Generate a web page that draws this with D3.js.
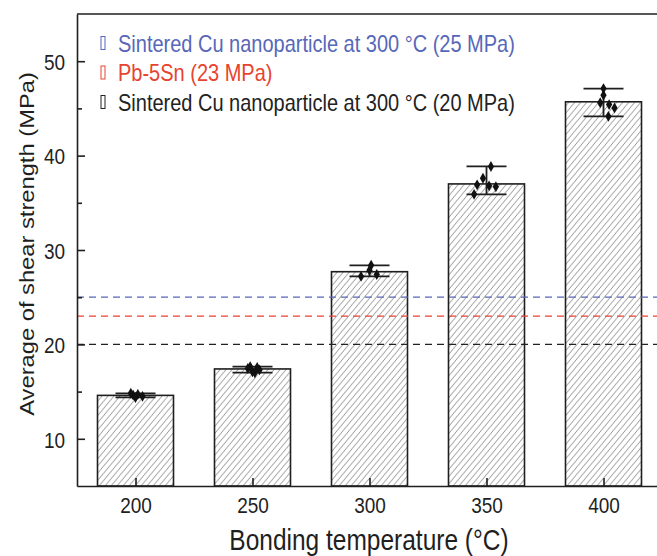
<!DOCTYPE html>
<html>
<head>
<meta charset="utf-8">
<script src="https://cdn.jsdelivr.net/npm/d3@7"></script>
<style>
  body { margin: 0; background: #fff; }
  svg { display: block; font-family: "Liberation Sans", Arial, sans-serif; }
</style>
</head>
<body>
<svg id="chart" width="657" height="556"></svg>
<script>
// ---- data ----
const temperatures = [200, 250, 300, 350, 400];           // bonding temperature, °C
const meanShear = [14.6, 17.4, 27.7, 37.0, 45.7];          // average shear strength, MPa
const sampleShear = [                                       // individual joints, MPa
  [14.82, 14.7, 14.62, 14.5, 14.38],
  [17.65, 17.55, 17.45, 17.3, 17.1, 17.0],
  [28.38, 27.85, 27.4, 27.2],
  [38.85, 37.6, 36.9, 36.8, 36.7, 35.9],
  [47.1, 46.4, 45.6, 45.4, 45.05, 44.15]
];
const sampleJitter = [                                      // horizontal spread of samples, °C
  [-2, 1, -1, 3, 0],
  [-1, 2, -2, 3, 0, 1],
  [0.7, 0, 3.1, -3.6],
  [1.9, -1.5, -4.0, 1.1, 4.0, -5.3],
  [0, 0, -1.4, 2.4, 4.7, 2.1]
];
const refNames = [
  "Sintered Cu nanoparticle at 300 \u00B0C (25 MPa)",
  "Pb-5Sn (23 MPa)",
  "Sintered Cu nanoparticle at 300 \u00B0C (20 MPa)"
];
const refStrength = [25, 23, 20];
const yTicks = [10, 20, 30, 40, 50];
const yMinorTicks = [15, 25, 35, 45];
const xTitle = "Bonding temperature (\u00B0C)";
const yTitle = "Average of shear strength (MPa)";

// ---- layout & style ----
const SY = 1.2;                      // vertical stretch applied to lettering
const ink = "#1f1f1f";
const refColors = ["#5767b9", "#e8432e", "#222222"];
const barW = 76, capHalf = 20;

const svg = d3.select("#chart");
const x = d3.scaleLinear().domain([175, 425]).range([77, 662]);
const y = d3.scaleLinear().domain([5, 55]).range([486, 14]);

// diagonal hatch fill
const pw = 6, ph = 7.2;
const pat = svg.append("defs").append("pattern")
  .attr("id", "hatch").attr("patternUnits", "userSpaceOnUse")
  .attr("width", pw).attr("height", ph);
pat.append("rect").attr("width", pw).attr("height", ph).attr("fill", "#fff");
pat.append("path")
  .attr("d", `M0,${ph}L${pw},0M${-pw},${ph}L0,0M${pw},${ph}L${2 * pw},0`)
  .attr("stroke", "#8c8c8c").attr("stroke-width", 0.9).attr("fill", "none");

// bars
const rows = temperatures.map((t, i) => ({ t, mean: meanShear[i], s: sampleShear[i], j: sampleJitter[i] }));
svg.append("g").selectAll("rect").data(rows).join("rect")
  .attr("x", d => x(d.t) - barW / 2)
  .attr("y", d => y(d.mean))
  .attr("width", barW)
  .attr("height", d => y(5) - y(d.mean))
  .attr("fill", "url(#hatch)")
  .attr("stroke", ink).attr("stroke-width", 1.6);

// reference strengths (dashed)
svg.append("g").selectAll("line").data(refStrength).join("line")
  .attr("x1", x(175)).attr("x2", x(425))
  .attr("y1", d => y(d)).attr("y2", d => y(d))
  .attr("stroke", (d, i) => refColors[i])
  .attr("stroke-width", 1.3)
  .attr("stroke-dasharray", "7,5");

// range bars (min..max of samples)
const eg = svg.append("g").attr("stroke", ink).attr("stroke-width", 1.8);
rows.forEach(d => {
  const lo = d3.min(d.s), hi = d3.max(d.s), cx = x(d.t);
  eg.append("line").attr("x1", cx).attr("x2", cx).attr("y1", y(lo)).attr("y2", y(hi));
  eg.append("line").attr("x1", cx - capHalf).attr("x2", cx + capHalf).attr("y1", y(hi)).attr("y2", y(hi));
  eg.append("line").attr("x1", cx - capHalf).attr("x2", cx + capHalf).attr("y1", y(lo)).attr("y2", y(lo));
});

// individual samples
const diamond = d3.symbol().type(d3.symbolDiamond).size(34);
const pg = svg.append("g").attr("fill", "#111");
rows.forEach(d => {
  d.s.forEach((v, k) => {
    pg.append("path").attr("d", diamond)
      .attr("transform", `translate(${x(d.t + d.j[k])},${y(v)})`);
  });
});

// axes
const xAxis = svg.append("g").attr("transform", `translate(0,${y(5)})`)
  .call(d3.axisBottom(x).tickValues(temperatures).tickSizeInner(-8).tickSizeOuter(0).tickFormat(d3.format("d")));
xAxis.selectAll("text")
  .attr("y", 0).attr("dy", 0)
  .attr("transform", `translate(0,27) scale(1,${SY})`)
  .attr("font-size", 19).attr("fill", ink);

const yAxis = svg.append("g").attr("transform", `translate(${x(175)},0)`)
  .call(d3.axisLeft(y).tickValues(yTicks).tickSizeInner(-8).tickSizeOuter(0).tickPadding(12));
yAxis.selectAll("text")
  .attr("dy", "0.36em")
  .attr("transform", `scale(1,${SY})`)
  .attr("font-size", 19).attr("fill", ink);

svg.append("g").attr("transform", `translate(${x(175)},0)`)
  .call(d3.axisLeft(y).tickValues(yMinorTicks).tickSizeInner(-5).tickSizeOuter(0).tickFormat(""))
  .call(g => g.select(".domain").remove());

svg.selectAll(".domain, .tick line").attr("stroke", ink).attr("stroke-width", 1.6);

// frame top and right
svg.append("path")
  .attr("d", `M${x(175)},${y(55)}H${x(425)}V${y(5)}`)
  .attr("fill", "none").attr("stroke", ink).attr("stroke-width", 1.6);

// titles
svg.append("text")
  .attr("transform", `translate(369,550) scale(1,${SY})`)
  .attr("text-anchor", "middle").attr("font-size", 24.5).attr("fill", ink)
  .text(xTitle);
svg.append("text")
  .attr("transform", `translate(34,244) rotate(-90) scale(1.13,1)`)
  .attr("text-anchor", "middle").attr("font-size", 21).attr("fill", ink)
  .text(yTitle);

// legend
const lg = svg.append("g");
refNames.forEach((name, i) => {
  const cy = 43 + i * 29.5;
  lg.append("rect").attr("x", 101).attr("y", cy - 6.5).attr("width", 4).attr("height", 13)
    .attr("fill", "#fff").attr("stroke", refColors[i]).attr("stroke-width", 1);
  lg.append("text")
    .attr("transform", `translate(118,${cy}) scale(1,${SY})`)
    .attr("dy", "0.36em").attr("font-size", 20).attr("fill", refColors[i])
    .text(name);
});
</script>
</body>
</html>
